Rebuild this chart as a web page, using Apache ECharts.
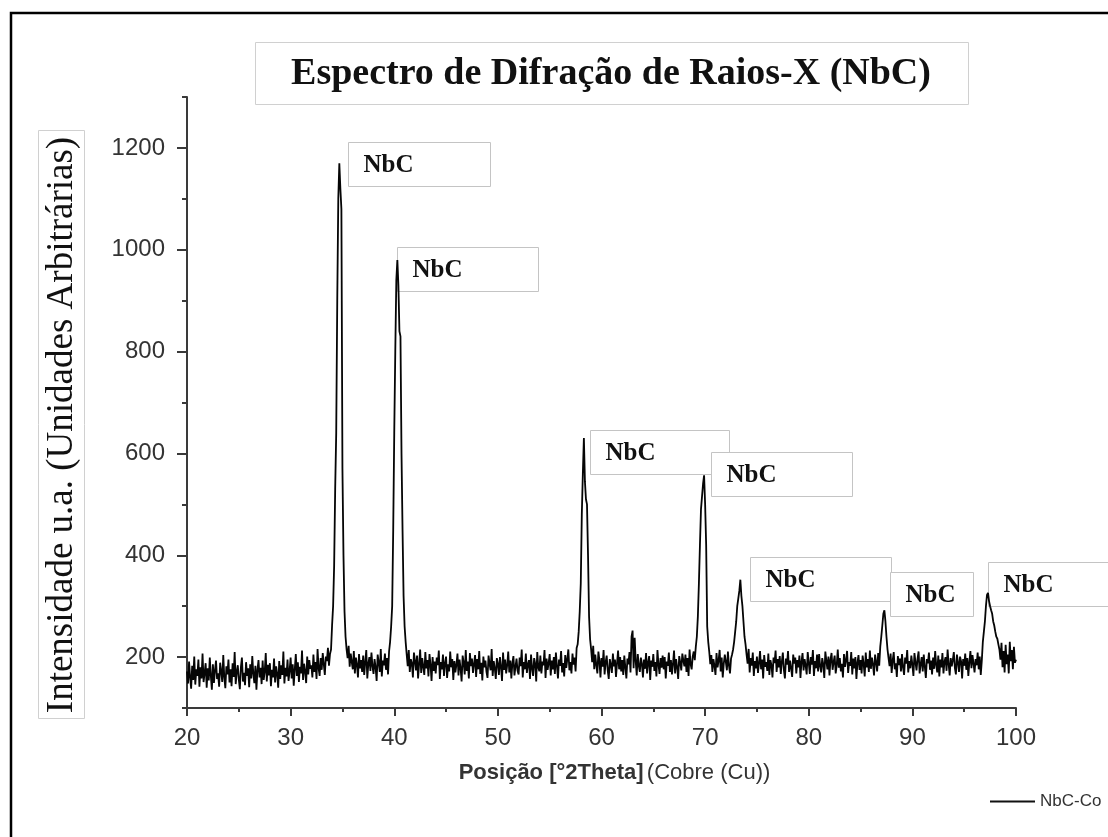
<!DOCTYPE html>
<html>
<head>
<meta charset="utf-8">
<script src="https://cdn.jsdelivr.net/npm/echarts@6/dist/echarts.min.js"></script>
<style>
  html, body { margin: 0; padding: 0; background: #fff; }
  #chart { width: 1108px; height: 837px; }
</style>
</head>
<body>
<div id="chart"></div>
<script>
// scan grid: 20..100 °2θ, step 0.1
const thetaStart = 20;
const thetaStep = 0.1;

// intensity, one row = 1 degree
const intensity = [
  172, 148, 191, 160, 138, 183, 155, 201, 146, 176,   // 20
  163, 195, 142, 180, 158, 207, 151, 169, 188, 140,   // 21
  178, 154, 199, 163, 136, 186, 149, 174, 193, 157,   // 22
  168, 142, 189, 172, 151, 204, 160, 139, 182, 166,   // 23
  195, 150, 176, 143, 188, 161, 210, 147, 171, 184,   // 24
  156, 137, 180, 199, 152, 169, 145, 190, 163, 178,   // 25
  141, 186, 158, 202, 167, 149, 183, 136, 175, 194,   // 26
  160, 179, 147, 193, 155, 171, 208, 152, 185, 164,   // 27
  188, 143, 175, 160, 197, 150, 182, 167, 140, 192,   // 28
  157, 184, 165, 211, 148, 179, 162, 195, 153, 173,   // 29
  199, 158, 186, 144, 176, 206, 163, 190, 151, 181,   // 30
  168, 213, 155, 187, 172, 149, 201, 166, 194, 177,   // 31
  184, 160, 205, 171, 190, 157, 216, 178, 163, 198,   // 32
  175, 208, 186, 165, 201, 192, 218, 183, 206, 215,   // 33
  262, 300, 380, 530, 640, 900, 1100, 1170, 1120, 1080, // 34
  570, 400, 290, 240, 215, 198, 222, 181, 207, 190,   // 35
  176, 212, 168, 199, 185, 160, 206, 178, 194, 171,   // 36
  203, 165, 190, 214, 158, 187, 200, 173, 209, 182,   // 37
  167, 196, 180, 153, 205, 189, 171, 216, 162, 193,   // 38
  184, 207, 175, 198, 166, 211, 230, 260, 300, 450,   // 39
  640, 800, 940, 980, 930, 840, 830, 600, 450, 320,   // 40
  260, 230, 205, 182, 214, 171, 196, 188, 160, 209,   // 41
  192, 174, 203, 158, 187, 215, 169, 198, 181, 165,   // 42
  210, 178, 194, 162, 206, 185, 153, 200, 173, 191,   // 43
  168, 199, 184, 213, 157, 190, 176, 205, 163, 188,   // 44
  201, 159, 186, 172, 211, 180, 196, 155, 192, 170,   // 45
  185, 207, 164, 195, 178, 152, 203, 189, 166, 214,   // 46
  173, 191, 158, 208, 182, 197, 169, 186, 204, 161,   // 47
  196, 176, 212, 167, 189, 154, 201, 180, 193, 171,   // 48
  159, 203, 186, 174, 216, 163, 192, 178, 157, 198,   // 49
  187, 165, 200, 181, 153, 209, 175, 195, 168, 184,   // 50
  211, 170, 193, 158, 188, 202, 164, 181, 197, 173,   // 51
  166, 199, 182, 215, 160, 190, 176, 207, 169, 186,   // 52
  194, 157, 205, 178, 163, 198, 187, 152, 210, 180,   // 53
  172, 203, 168, 191, 184, 214, 159, 197, 175, 188,   // 54
  206, 164, 193, 176, 200, 167, 209, 182, 158, 195,   // 55
  183, 212, 170, 188, 162, 204, 179, 196, 215, 174,   // 56
  190, 168, 207, 185, 199, 172, 218, 225, 250, 290,   // 57
  345, 480, 560, 630, 545, 510, 500, 400, 280, 235,   // 58
  215, 190, 222, 176, 205, 184, 168, 211, 193, 160,   // 59
  198, 181, 214, 166, 190, 203, 174, 157, 196, 185,   // 60
  169, 207, 182, 195, 161, 188, 213, 176, 200, 172,   // 61
  194, 165, 203, 180, 158, 197, 186, 210, 170, 240,   // 62
  252, 178, 238, 192, 164, 206, 183, 171, 199, 187,   // 63
  160, 195, 177, 208, 168, 189, 202, 155, 193, 181,   // 64
  206, 173, 190, 162, 214, 185, 167, 198, 179, 203,   // 65
  176, 200, 158, 191, 183, 209, 171, 194, 166, 187,   // 66
  213, 168, 196, 180, 157, 202, 189, 174, 207, 193,   // 67
  182, 205, 171, 198, 163, 215, 186, 176, 201, 211,   // 68
  194, 220, 240, 280, 345, 420, 490, 515, 540, 557,   // 69
  500, 420, 260, 230, 210, 186, 204, 171, 196, 183,   // 70
  165, 208, 180, 193, 214, 172, 199, 160, 187, 205,   // 71
  190, 174, 211, 183, 168, 197, 205, 215, 230, 250,   // 72
  270, 300, 315, 330, 352, 320, 300, 270, 240, 225,   // 73
  205, 187, 216, 170, 198, 183, 209, 163, 192, 178,   // 74
  201, 169, 188, 212, 176, 195, 158, 204, 181, 190,   // 75
  173, 207, 165, 194, 184, 160, 199, 188, 213, 171,   // 76
  196, 180, 202, 167, 190, 209, 175, 158, 197, 185,   // 77
  212, 171, 193, 178, 161, 205, 187, 199, 168, 194,   // 78
  180, 203, 159, 191, 208, 174, 196, 183, 166, 210,   // 79
  189, 167, 200, 185, 214, 163, 192, 178, 205, 172,   // 80
  206, 182, 170, 198, 186, 159, 211, 193, 176, 201,   // 81
  164, 195, 208, 175, 190, 203, 168, 184, 215, 179,   // 82
  198, 172, 187, 160, 206, 181, 194, 212, 169, 190,   // 83
  183, 210, 166, 197, 178, 200, 157, 189, 204, 175,   // 84
  194, 168, 203, 186, 162, 209, 180, 196, 171, 213,   // 85
  177, 199, 185, 164, 205, 190, 172, 208, 183, 220,   // 86
  240, 262, 285, 292, 270, 240, 215, 198, 182, 207,   // 87
  169, 193, 210, 176, 188, 161, 202, 184, 197, 172,   // 88
  206, 180, 165, 199, 187, 214, 170, 192, 178, 203,   // 89
  185, 163, 208, 190, 174, 197, 211, 168, 186, 200,   // 90
  172, 205, 181, 159, 196, 188, 209, 175, 193, 166,   // 91
  199, 177, 212, 184, 170, 203, 162, 195, 180, 208,   // 92
  168, 191, 200, 173, 215, 186, 164, 198, 182, 194,   // 93
  210, 179, 166, 205, 189, 171, 201, 192, 158, 196,   // 94
  183, 207, 175, 198, 163, 190, 212, 178, 204, 187,   // 95
  170, 196, 184, 209, 176, 201, 165, 193, 230, 250,   // 96
  270, 300, 322, 326, 310, 300, 292, 285, 270, 262,   // 97
  250, 240, 236, 225, 215, 195, 228, 180, 212, 170,   // 98
  224, 186, 205, 168, 230, 192, 214, 176, 220, 189,   // 99
  195                                                 // 100
];

const yMajorTicks = [200, 400, 600, 800, 1000, 1200];
const yMinorTicks = [100, 300, 500, 700, 900, 1100, 1300];

// peak annotations: top-left corner of each label box, in data units
const peakLabels = ['NbC', 'NbC', 'NbC', 'NbC', 'NbC', 'NbC', 'NbC'];
const labelTheta = [35.54, 40.27, 58.89, 70.57, 74.33, 87.84, 97.30];
const labelIntensity = [1212, 1005, 646, 603, 396, 368, 387];

const seriesName = 'NbC-Co';
const titleText = 'Espectro de Difração de Raios-X (NbC)';
const yTitle = 'Intensidade u.a. (Unidades Arbitrárias)';

const boxWidths = [142, 141, 139, 141, 141, 83, 140];
const SERIF = '"Liberation Serif", "Times New Roman", serif';
const SANS = '"Liberation Sans", Arial, sans-serif';
const axisColor = '#3a3a3a';

const points = intensity.map((v, i) => [+(thetaStart + i * thetaStep).toFixed(1), v]);

const chart = echarts.init(document.getElementById('chart'));

chart.setOption({
  animation: false,
  backgroundColor: '#fff',
  grid: { left: 187, top: 97, width: 829, height: 611 },
  legend: {
    data: [seriesName],
    left: 985,
    top: 788,
    icon: 'rect',
    itemWidth: 45,
    itemHeight: 2,
    itemGap: 6,
    textStyle: { fontFamily: SANS, fontSize: 17, color: '#333' }
  },
  xAxis: {
    type: 'value',
    min: 20,
    max: 100,
    interval: 10,
    axisLine: { show: true, onZero: false, lineStyle: { color: axisColor, width: 2 } },
    axisTick: { show: true, length: 8, lineStyle: { color: axisColor, width: 2 } },
    minorTick: { show: true, splitNumber: 2, length: 4, lineStyle: { color: axisColor, width: 2 } },
    axisLabel: { margin: 18, fontFamily: SANS, fontSize: 24, color: '#333' },
    splitLine: { show: false },
    name: '{b|Posição [°2Theta]} {n|(Cobre (Cu))}',
    nameLocation: 'middle',
    nameGap: 54,
    nameTextStyle: {
      padding: [0, 0, 0, 26],
      rich: {
        b: { fontFamily: SANS, fontSize: 22, fontWeight: 'bold', color: '#333' },
        n: { fontFamily: SANS, fontSize: 22, color: '#333' }
      }
    }
  },
  yAxis: [{
    type: 'value',
    min: 100,
    max: 1300,
    axisLine: { show: true, onZero: false, lineStyle: { color: axisColor, width: 2 } },
    axisTick: { show: true, customValues: yMajorTicks, length: 10, lineStyle: { color: axisColor, width: 2 } },
    axisLabel: {
      customValues: yMajorTicks, margin: 22, fontFamily: SANS, fontSize: 24, color: '#333',
      formatter: v => String(v)
    },
    splitLine: { show: false }
  }, {
    type: 'value',
    position: 'left',
    offset: 0,
    min: 100,
    max: 1300,
    axisLine: { show: false },
    axisTick: { show: true, customValues: yMinorTicks, length: 5, lineStyle: { color: axisColor, width: 2 } },
    axisLabel: { show: false },
    splitLine: { show: false }
  }],
  series: [{
    name: seriesName,
    type: 'line',
    data: points,
    symbol: 'none',
    z: 5,
    lineStyle: { color: '#050505', width: 1.8 },
    itemStyle: { color: '#111' }
  }]
});

// label boxes placed through the axis scales
const boxes = labelTheta.map((t, i) => {
  const p = chart.convertToPixel({ gridIndex: 0 }, [t, labelIntensity[i]]);
  return {
    type: 'group',
    x: Math.round(p[0]) + 0.5,
    y: Math.round(p[1]) + 0.5,
    z: 1,
    children: [
      { type: 'rect', shape: { x: 0, y: 0, width: boxWidths[i], height: 44 },
        style: { fill: '#fff', stroke: '#c4c4c4', lineWidth: 1 } },
      { type: 'text', x: 15, y: 23,
        style: { text: peakLabels[i], font: 'bold 25px ' + SERIF, fill: '#111', verticalAlign: 'middle' } }
    ]
  };
});

chart.setOption({
  graphic: [
    // outer frame
    { type: 'rect', z: 0, shape: { x: 11, y: 13, width: 1200, height: 900 },
      style: { fill: 'none', stroke: '#000', lineWidth: 2.5 } },
    // title box
    { type: 'rect', z: 1, shape: { x: 255.5, y: 42.5, width: 713, height: 62 },
      style: { fill: '#fff', stroke: '#d0d0d0', lineWidth: 1 } },
    { type: 'text', z: 2, x: 611, y: 74,
      style: { text: titleText, font: 'bold 38px ' + SERIF, fill: '#111', align: 'center', verticalAlign: 'middle' } },
    // y axis title box
    { type: 'rect', z: 1, shape: { x: 38.5, y: 130.5, width: 46, height: 588 },
      style: { fill: '#fff', stroke: '#d0d0d0', lineWidth: 1 } },
    { type: 'text', z: 2, x: 62, y: 425, rotation: Math.PI / 2,
      style: { text: yTitle, font: '37px ' + SERIF, fill: '#111', align: 'center', verticalAlign: 'middle' } }
  ].concat(boxes)
});
</script>
</body>
</html>
